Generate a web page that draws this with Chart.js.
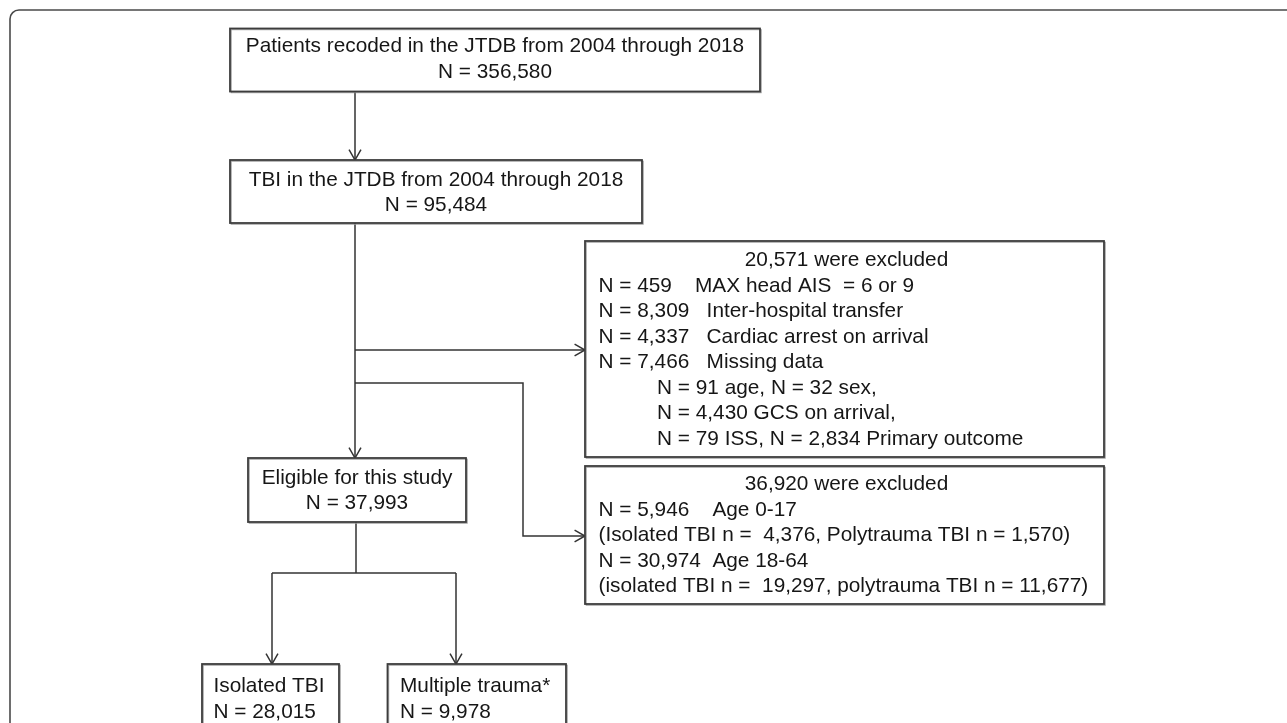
<!DOCTYPE html>
<html>
<head>
<meta charset="utf-8">
<title>JTDB TBI patient flow</title>
<script src="https://cdn.jsdelivr.net/npm/chart.js"></script>
<style>
  html, body { margin: 0; padding: 0; background: #fff; }
  #wrap { width: 1287px; height: 723px; }
</style>
</head>
<body>
<div id="wrap"><canvas id="flow" width="1287" height="723"></canvas></div>
<script>
// ---- data ----
const stageLabels = [
    'Patients recoded in the JTDB from 2004 through 2018',
    'TBI in the JTDB from 2004 through 2018',
    'Eligible for this study',
    'Isolated TBI',
    'Multiple trauma*'
];
const stageCounts = [356580, 95484, 37993, 28015, 9978];

const firstExclusionTotal = 20571;
const firstExclusionReasons = ['MAX head AIS  = 6 or 9', 'Inter-hospital transfer', 'Cardiac arrest on arrival', 'Missing data'];
const firstExclusionCounts = [459, 8309, 4337, 7466];
const missingItems = ['age', 'sex', 'GCS on arrival', 'ISS', 'Primary outcome'];
const missingCounts = [91, 32, 4430, 79, 2834];

const secondExclusionTotal = 36920;
const ageGroups = ['Age 0-17', 'Age 18-64'];
const ageGroupCounts = [5946, 30974];
const ageIsolatedCounts = [4376, 19297];
const agePolytraumaCounts = [1570, 11677];

// ---- helpers ----
const fmt = n => n.toLocaleString('en-US');
const nText = n => 'N = ' + fmt(n);

// text lines for each box
const box1Lines = [stageLabels[0], nText(stageCounts[0])];
const box2Lines = [stageLabels[1], nText(stageCounts[1])];
const box5Lines = [stageLabels[2], nText(stageCounts[2])];
const box6Lines = [stageLabels[3], nText(stageCounts[3])];
const box7Lines = [stageLabels[4], nText(stageCounts[4])];

const gaps1 = ['    ', '   ', '   ', '   '];
const excl1Lines = firstExclusionReasons.map((r, i) => nText(firstExclusionCounts[i]) + gaps1[i] + r);
const missingLines = [
    nText(missingCounts[0]) + ' ' + missingItems[0] + ', ' + nText(missingCounts[1]) + ' ' + missingItems[1] + ',',
    nText(missingCounts[2]) + ' ' + missingItems[2] + ',',
    nText(missingCounts[3]) + ' ' + missingItems[3] + ', ' + nText(missingCounts[4]) + ' ' + missingItems[4]
];
const excl2Lines = [
    nText(ageGroupCounts[0]) + '    ' + ageGroups[0],
    '(Isolated TBI n =  ' + fmt(ageIsolatedCounts[0]) + ', Polytrauma TBI n = ' + fmt(agePolytraumaCounts[0]) + ')',
    nText(ageGroupCounts[1]) + '  ' + ageGroups[1],
    '(isolated TBI n =  ' + fmt(ageIsolatedCounts[1]) + ', polytrauma TBI n = ' + fmt(agePolytraumaCounts[1]) + ')'
];

// ---- layout (figure units = pixels of the original) ----
const FONT = '20.8px "Liberation Sans", Arial, sans-serif';
const LINE_H = 25.5;
const boxes = [
    { x0: 230, y0: 28.5, x1: 760, y1: 91.5, lines: box1Lines, align: 'center', y: 46.5 },
    { x0: 230, y0: 160, x1: 642, y1: 223, lines: box2Lines, align: 'center', y: 180 },
    { x0: 585, y0: 241, x1: 1104, y1: 457, title: fmt(firstExclusionTotal) + ' were excluded', y: 260.5,
      lines: excl1Lines, indentLines: missingLines, textX: 598.5, indentX: 657 },
    { x0: 585, y0: 466, x1: 1104, y1: 604, title: fmt(secondExclusionTotal) + ' were excluded', y: 484.5,
      lines: excl2Lines, textX: 598.5 },
    { x0: 248, y0: 458, x1: 466, y1: 522, lines: box5Lines, align: 'center', y: 478 },
    { x0: 202, y0: 664, x1: 339, y1: 740, lines: box6Lines, align: 'left', textX: 213.5, y: 686.5 },
    { x0: 387.5, y0: 664, x1: 566, y1: 740, lines: box7Lines, align: 'left', textX: 400, y: 686.5 }
];

const connectors = [
    { pts: [[355, 91.5], [355, 160]], arrow: true },
    { pts: [[355, 223], [355, 458]], arrow: true },
    { pts: [[355, 350], [585, 350]], arrow: true },
    { pts: [[355, 383], [523, 383], [523, 536], [585, 536]], arrow: true },
    { pts: [[356, 522], [356, 573]], arrow: false },
    { pts: [[272, 573], [456, 573]], arrow: false },
    { pts: [[272, 573], [272, 664]], arrow: true },
    { pts: [[456, 573], [456, 664]], arrow: true }
];

const flowPlugin = {
    id: 'flowPlugin',
    beforeDatasetsDraw(chart) {
        const { ctx, scales: { x, y } } = chart;
        // outer rounded frame (runs off the right and bottom edges)
        ctx.save();
        ctx.strokeStyle = '#4a4a4a';
        ctx.lineWidth = 1.6;
        ctx.beginPath();
        ctx.roundRect(x.getPixelForValue(10), y.getPixelForValue(10),
            x.getPixelForValue(1320) - x.getPixelForValue(10),
            y.getPixelForValue(760) - y.getPixelForValue(10), 9);
        ctx.stroke();
        ctx.restore();
    },
    afterDatasetsDraw(chart) {
        const { ctx, scales: { x, y } } = chart;
        ctx.save();

        // arrow heads (open V)
        ctx.strokeStyle = '#333';
        ctx.lineWidth = 1.5;
        connectors.forEach(c => {
            if (!c.arrow) return;
            const n = c.pts.length;
            const [ax, ay] = c.pts[n - 2];
            const [bx, by] = c.pts[n - 1];
            const px = x.getPixelForValue(bx), py = y.getPixelForValue(by);
            const ang = Math.atan2(py - y.getPixelForValue(ay), px - x.getPixelForValue(ax));
            const len = 12, half = 0.52;
            ctx.beginPath();
            ctx.moveTo(px - len * Math.cos(ang - half), py - len * Math.sin(ang - half));
            ctx.lineTo(px, py);
            ctx.lineTo(px - len * Math.cos(ang + half), py - len * Math.sin(ang + half));
            ctx.stroke();
        });

        // boxes
        boxes.forEach(b => {
            const bx0 = x.getPixelForValue(b.x0), bx1 = x.getPixelForValue(b.x1);
            const by0 = y.getPixelForValue(b.y0), by1 = y.getPixelForValue(b.y1);
            ctx.fillStyle = '#fff';
            ctx.fillRect(bx0, by0, bx1 - bx0, by1 - by0);
            ctx.strokeStyle = '#9a9a9a';
            ctx.lineWidth = 1;
            ctx.strokeRect(bx0 + 1.2, by0 + 1.2, bx1 - bx0, by1 - by0);
            ctx.strokeStyle = '#3c3c3c';
            ctx.lineWidth = 1.8;
            ctx.strokeRect(bx0, by0, bx1 - bx0, by1 - by0);

            ctx.fillStyle = '#161616';
            ctx.font = FONT;
            ctx.textBaseline = 'middle';
            let row = 0;
            const ty = k => y.getPixelForValue(b.y + k * LINE_H);
            if (b.title) {
                ctx.textAlign = 'center';
                ctx.fillText(b.title, (bx0 + bx1) / 2 + 2, ty(row++));
            }
            b.lines.forEach(t => {
                if (b.align === 'center') {
                    ctx.textAlign = 'center';
                    ctx.fillText(t, (bx0 + bx1) / 2, ty(row++));
                } else {
                    ctx.textAlign = 'left';
                    ctx.fillText(t, x.getPixelForValue(b.textX), ty(row++));
                }
            });
            (b.indentLines || []).forEach(t => {
                ctx.textAlign = 'left';
                ctx.fillText(t, x.getPixelForValue(b.indentX), ty(row++));
            });
        });
        ctx.restore();
    }
};

new Chart(document.getElementById('flow'), {
    type: 'scatter',
    data: {
        datasets: connectors.map(c => ({
            data: c.pts.map(([px, py]) => ({ x: px, y: py })),
            showLine: true,
            borderColor: '#333',
            borderWidth: 1.5,
            pointRadius: 0,
            fill: false,
            tension: 0
        }))
    },
    options: {
        responsive: false,
        devicePixelRatio: 1,
        animation: false,
        layout: { padding: 0 },
        plugins: { legend: { display: false }, tooltip: { enabled: false } },
        scales: {
            x: { type: 'linear', min: 0, max: 1287, display: false },
            y: { type: 'linear', min: 0, max: 723, reverse: true, display: false }
        }
    },
    plugins: [flowPlugin]
});
</script>
</body>
</html>
